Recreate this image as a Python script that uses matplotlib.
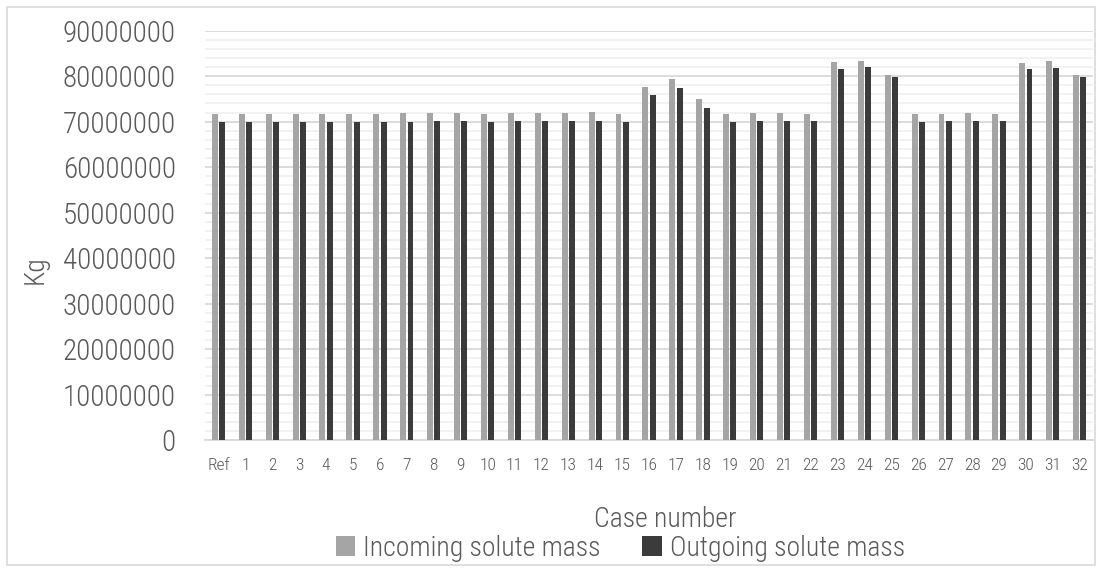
import numpy as np
import matplotlib
matplotlib.use("Agg")
import matplotlib.pyplot as plt
from matplotlib.patches import Rectangle
from matplotlib.ticker import MultipleLocator, FuncFormatter

# ---------- Data (kg) ----------
cases = ["Ref"] + [str(i) for i in range(1, 33)]
incoming = [71.7, 71.6, 71.6, 71.6, 71.7, 71.7, 71.6, 71.8, 71.8, 72.0,
            71.6, 71.8, 72.0, 72.0, 72.1, 71.6, 77.6, 79.3, 74.9, 71.6,
            71.8, 71.8, 71.6, 83.1, 83.4, 80.2, 71.7, 71.6, 71.8, 71.6,
            83.0, 83.3, 80.2]
outgoing = [70.0, 70.0, 70.0, 70.0, 70.0, 70.0, 70.0, 70.0, 70.1, 70.1,
            70.0, 70.1, 70.1, 70.1, 70.1, 70.0, 75.95, 77.4, 73.0, 70.0,
            70.05, 70.1, 70.05, 81.6, 81.96, 79.8, 69.97, 70.05, 70.1, 70.05,
            81.5, 81.9, 79.8]
incoming = np.array(incoming) * 1e6
outgoing = np.array(outgoing) * 1e6

# ---------- Style ----------
plt.rcParams['font.family'] = ['Roboto Condensed', 'DejaVu Sans']
plt.rcParams['font.weight'] = 'light'
txt = "#595959"
c_in = "#a5a5a5"
c_out = "#3b3b3b"

fig = plt.figure(figsize=(11.02, 5.68), dpi=100)
ax = fig.add_axes([0.186, 0.225, 0.806, 0.721])

x = np.arange(len(cases))
w = 0.22
ax.bar(x - 0.135, incoming, w, color=c_in, label="Incoming solute mass", zorder=3)
ax.bar(x + 0.135, outgoing, w, color=c_out, label="Outgoing solute mass", zorder=3)

ax.set_xlim(-0.5, len(cases) - 0.5)
ax.set_ylim(0, 90e6)
ax.yaxis.set_major_locator(MultipleLocator(10e6))
ax.yaxis.set_minor_locator(MultipleLocator(2e6))
ax.yaxis.set_major_formatter(FuncFormatter(lambda v, p: f"{v:.0f}"))
ax.grid(axis="y", which="major", color="#d9d9d9", lw=1.3, zorder=0)
ax.grid(axis="y", which="minor", color="#f0f0f0", lw=1.3, zorder=0)

ax.set_xticks(x)
ax.set_xticklabels(cases)
ax.tick_params(axis="x", length=0, labelsize=12.5, colors=txt, pad=13)
ax.tick_params(axis="y", which="both", length=0, labelsize=21, colors=txt, pad=21)
for s in ["top", "right", "left"]:
    ax.spines[s].set_visible(False)
ax.spines["bottom"].set_color("#d9d9d9")
ax.spines["bottom"].set_linewidth(1.3)

fig.text(0.604, 0.085, "Case number", ha="center", va="center", fontsize=20, color=txt)
fig.text(0.032, 0.525, "Kg", ha="center", va="center", fontsize=20, color=txt, rotation=90)

leg = fig.legend(loc="center", bbox_to_anchor=(0.563, 0.035), ncol=2, frameon=False,
                 fontsize=20, handlelength=0.7, handleheight=0.7, handletextpad=0.3,
                 columnspacing=1.5, borderpad=0)
for t in leg.get_texts():
    t.set_color(txt)

fig.add_artist(Rectangle((0.006, 0.006), 0.988, 0.982, transform=fig.transFigure,
                         fill=False, edgecolor="#d9d9d9", lw=1.2))

fig.savefig("out.png", dpi=100)
